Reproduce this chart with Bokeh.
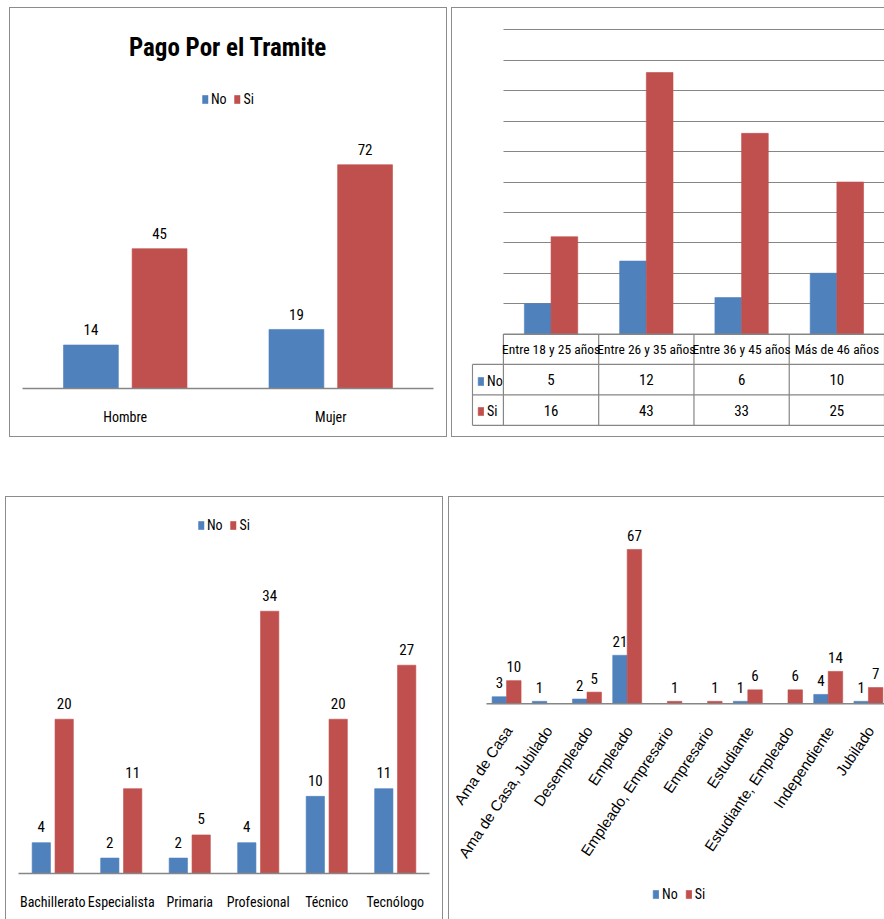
import math
from bokeh.plotting import figure
from bokeh.models import (ColumnDataSource, FactorRange, Range1d, Legend, LegendItem,
                          FixedTicker, Grid, Spacer)
from bokeh.layouts import row, column
from bokeh.transform import dodge
from bokeh.core.properties import value
from bokeh.embed import file_html
from bokeh.resources import INLINE

# ---------------- data ----------------
SERIES = ["No", "Si"]

TITULO = "Pago Por el Tramite"
GENERO = ["Hombre", "Mujer"]
GENERO_NO = [14, 19]
GENERO_SI = [45, 72]

EDAD = ["Entre 18 y 25 años", "Entre 26 y 35 años", "Entre 36 y 45 años", "Más de 46 años"]
EDAD_NO = [5, 12, 6, 10]
EDAD_SI = [16, 43, 33, 25]
EDAD_TICKS = [0, 5, 10, 15, 20, 25, 30, 35, 40, 45, 50]

ESTUDIOS = ["Bachillerato", "Especialista", "Primaria", "Profesional", "Técnico", "Tecnólogo"]
ESTUDIOS_NO = [4, 2, 2, 4, 10, 11]
ESTUDIOS_SI = [20, 11, 5, 34, 20, 27]

OCUPACION = ["Ama de Casa", "Ama de Casa, Jubilado", "Desempleado", "Empleado",
             "Empleado, Empresario", "Empresario", "Estudiante", "Estudiante, Empleado",
             "Independiente", "Jubilado"]
OCUPACION_NO = [3, 1, 2, 21, None, None, 1, None, 4, 1]
OCUPACION_SI = [10, None, 5, 67, 1, 1, 6, 6, 14, 7]

# ---------------- style ----------------
BLUE = "#4F81BD"
RED = "#C0504D"
AXIS = "#868686"
FRAME = "#8c8c8c"
INK = "#000000"
NARROW = "Roboto Condensed, DejaVu Sans Condensed, Liberation Sans, sans-serif"
REGULAR = "Liberation Sans, sans-serif"

EDGE = {"l": "inset 1px 0 0 0 %s", "r": "inset -1px 0 0 0 %s",
        "t": "inset 0 1px 0 0 %s", "b": "inset 0 -1px 0 0 %s"}


def base(width, height, x_range, y_range, borders, **kw):
    p = figure(width=width, height=height, x_range=x_range, y_range=y_range,
               output_backend="svg", toolbar_location=None, y_axis_location=None, **kw)
    p.frame_align = False
    p.border_fill_color = None
    p.background_fill_color = None
    p.outline_line_color = None
    p.styles = {"box-shadow": ", ".join(EDGE[s] % FRAME for s in borders)}
    p.xgrid.visible = False
    p.ygrid.visible = False
    return p


def style_xaxis(p, font, size, standoff):
    ax = p.xaxis[0]
    ax.axis_line_color = AXIS
    ax.axis_line_width = 1.5
    ax.major_tick_line_color = None
    ax.minor_tick_line_color = None
    ax.major_label_text_font = font
    ax.major_label_text_font_size = size
    ax.major_label_text_color = INK
    ax.major_label_standoff = standoff
    return ax


def clean(xs, vals):
    pairs = [(x, v) for x, v in zip(xs, vals) if v is not None]
    return ColumnDataSource(dict(x=[a for a, _ in pairs], v=[b for _, b in pairs],
                                 t=[str(b) for _, b in pairs]))


def add_bars(p, cats, no, si, off, width, rng=None, labels=True, lbl_size="15px", lbl_off=-15):
    rends = []
    for vals, sgn, col in ((no, -1, BLUE), (si, 1, RED)):
        src = clean(cats, vals)
        xs = dodge("x", sgn * off, range=rng) if rng is not None else dodge("x", sgn * off)
        r = p.vbar(x=xs, top="v", width=width, source=src, fill_color=col,
                   line_color=col, line_alpha=0.6)
        rends.append(r)
        if labels:
            p.text(x=xs, y="v", text="t", source=src, text_align="center",
                   text_baseline="alphabetic", y_offset=lbl_off,
                   text_font=value(NARROW), text_font_size=lbl_size, text_color=INK)
    return rends


def make_legend(r_no, r_si, **kw):
    return Legend(items=[LegendItem(label=SERIES[0], renderers=[r_no]),
                         LegendItem(label=SERIES[1], renderers=[r_si])],
                  border_line_color=None, background_fill_alpha=0, padding=0,
                  label_standoff=3, glyph_width=7, glyph_height=10,
                  label_text_font=NARROW, label_text_font_size="14px",
                  label_text_color=INK, label_height=17, label_width=8, **kw)


# ---------------- panel 1 ----------------
p1 = base(438, 430, FactorRange(*GENERO), Range1d(0, 99.1), "lrtb",
          min_border_left=13, min_border_right=14, min_border_top=73, min_border_bottom=49,
          title=TITULO)
p1.title.align = "center"
p1.title.text_font = NARROW
p1.title.text_font_size = "25px"
p1.title.text_font_style = "bold"
p1.title.text_color = INK
p1.title.standoff = 37
r1n, r1s = add_bars(p1, GENERO, GENERO_NO, GENERO_SI, 0.167, 0.267, rng=p1.x_range,
                    lbl_size="15px", lbl_off=-15)
style_xaxis(p1, NARROW, "14px", 14)
p1.add_layout(make_legend(r1n, r1s, location="top_center", orientation="horizontal",
                          spacing=7, margin=10))

# ---------------- panel 2 ----------------
KEY_X = -0.325
ROW_H = 5
p2 = base(433, 430, Range1d(-0.335, len(EDAD)), Range1d(-3 * ROW_H - 0.2, 53.2), "ltb",
          x_axis_location=None,
          min_border_left=20, min_border_right=0, min_border_top=3, min_border_bottom=11)
grid = Grid(dimension=1, ticker=FixedTicker(ticks=EDAD_TICKS), grid_line_color=AXIS,
            grid_line_width=1.2, cross_bounds=(0, len(EDAD)))
p2.add_layout(grid)
cx2 = [i + 0.5 for i in range(len(EDAD))]
r2n, r2s = add_bars(p2, cx2, EDAD_NO, EDAD_SI, 0.14, 0.28, labels=False)

n2 = len(EDAD)
hy = [-ROW_H * (k + 1) for k in range(3)]
p2.segment(x0=[KEY_X] * 3 + [0], y0=hy + [0], x1=[n2] * 3 + [n2], y1=hy + [0],
           line_color=AXIS, line_width=1.2)
vx = list(range(n2 + 1))
p2.segment(x0=vx + [KEY_X], y0=[-3 * ROW_H] * (n2 + 1) + [-3 * ROW_H],
           x1=vx + [KEY_X], y1=[0] * (n2 + 1) + [-ROW_H], line_color=AXIS, line_width=1.2)
p2.text(x=cx2, y=[-ROW_H / 2] * n2, text=EDAD, text_align="center", text_baseline="middle",
        text_font=value(NARROW), text_font_size="13.5px", text_color=INK)
p2.text(x=cx2, y=[-ROW_H * 1.5] * n2, text=[str(v) for v in EDAD_NO], text_align="center",
        text_baseline="middle", text_font=value(NARROW), text_font_size="15px", text_color=INK)
p2.text(x=cx2, y=[-ROW_H * 2.5] * n2, text=[str(v) for v in EDAD_SI], text_align="center",
        text_baseline="middle", text_font=value(NARROW), text_font_size="15px", text_color=INK)
p2.add_layout(make_legend(r2n, r2s, location=(6, 7), orientation="vertical",
                          spacing=13, margin=0))

# ---------------- panel 3 ----------------
p3 = base(438, 423, FactorRange(*ESTUDIOS), Range1d(0, 47.06), "ltr",
          min_border_left=13, min_border_right=14, min_border_top=14, min_border_bottom=46)
r3n, r3s = add_bars(p3, ESTUDIOS, ESTUDIOS_NO, ESTUDIOS_SI, 0.167, 0.267, rng=p3.x_range,
                    lbl_size="15px", lbl_off=-16)
style_xaxis(p3, NARROW, "14px", 14)
p3.add_layout(make_legend(r3n, r3s, location="top_center", orientation="horizontal",
                          spacing=7, margin=6))

# ---------------- panel 4 ----------------
# the frame fills the panel; categories occupy x in [0, n], the baseline sits at y = 0
n4 = len(OCUPACION)
p4 = base(436, 423, Range1d(-0.92, 9.9), Range1d(-93.8, 86.1), "lt",
          x_axis_location=None,
          min_border_left=1, min_border_right=0, min_border_top=9, min_border_bottom=0)
cx4 = [i + 0.5 for i in range(n4)]
r4n, r4s = add_bars(p4, cx4, OCUPACION_NO, OCUPACION_SI, 0.18, 0.36,
                    lbl_size="15px", lbl_off=-14)
p4.segment(x0=[0], y0=[0], x1=[n4], y1=[0], line_color=AXIS, line_width=1.5)
p4.text(x=cx4, y=[0] * n4, text=OCUPACION, angle=math.radians(56),
        text_align="right", text_baseline="middle", x_offset=2, y_offset=24,
        text_font=value(REGULAR), text_font_size="15px", text_color=INK)
p4.add_layout(make_legend(r4n, r4s, location=(203, 17), orientation="horizontal",
                          spacing=7, margin=0))

layout = column(
    Spacer(width=884, height=7),
    row(Spacer(width=9, height=430), p1, Spacer(width=4, height=430), p2),
    Spacer(width=884, height=59),
    row(Spacer(width=5, height=423), p3, Spacer(width=5, height=423), p4),
)

open("out.html", "w").write(file_html(layout, INLINE))
